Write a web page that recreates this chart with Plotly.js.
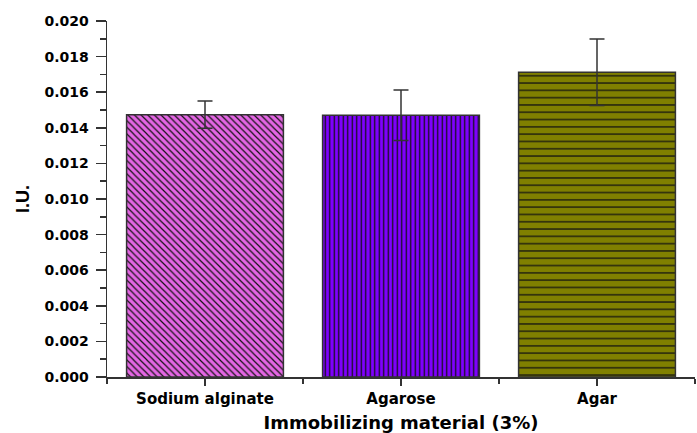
<!DOCTYPE html>
<html>
<head>
<meta charset="utf-8">
<script src="https://cdn.plot.ly/plotly-3.0.1.min.js"></script>
<style>html,body{margin:0;padding:0;background:#fff;}#chart{width:697px;height:433px;}</style>
</head>
<body>
<div id="chart"></div>
<script>
const categories = ["Sodium alginate", "Agarose", "Agar"];
const values = [0.01474, 0.01470, 0.01712];
const errors = [0.00077, 0.00142, 0.00187];
const fillColors = ["#e466e4", "#7f00ff", "#808000"];
const patterns = ["\\", "|", "-"];
const patternSizes = [4.7, 4.5, 7.3];
const patternSolidity = [0.25, 0.28, 0.17];
const yTickVals = [0, 0.002, 0.004, 0.006, 0.008, 0.010, 0.012, 0.014, 0.016, 0.018, 0.020];
const yTickText = ["0.000","0.002","0.004","0.006","0.008","0.010","0.012","0.014","0.016","0.018","0.020"];

const xIdx = categories.map((c, i) => i);

const traces = categories.map((c, i) => ({
  type: "bar",
  x: [xIdx[i]],
  y: [values[i]],
  width: 0.8,
  name: c,
  marker: {
    color: fillColors[i],
    line: {color: "#333333", width: 1.5},
    pattern: {
      shape: patterns[i],
      fgcolor: "#111111",
      bgcolor: fillColors[i],
      size: patternSizes[i],
      solidity: patternSolidity[i],
      fillmode: "replace"
    }
  },
  error_y: {
    type: "data",
    array: [errors[i]],
    visible: true,
    color: "#333333",
    thickness: 1.5,
    width: 7.5
  },
  showlegend: false
}));

const layout = {
  width: 697,
  height: 433,
  margin: {l: 107, r: 2, t: 21, b: 56},
  paper_bgcolor: "#ffffff",
  plot_bgcolor: "#ffffff",
  barmode: "overlay",
  font: {family: "DejaVu Sans", color: "#000000"},
  xaxis: {
    range: [-0.5, 2.5],
    tickmode: "array",
    tickvals: xIdx,
    ticktext: categories,
    ticks: "outside",
    ticklen: 7,
    tickwidth: 1.5,
    tickcolor: "#333333",
    showline: true,
    linecolor: "#333333",
    linewidth: 1.5,
    showgrid: false,
    zeroline: false,
    tickfont: {family: "DejaVu Sans", size: 15, color: "#000", weight: "bold"},
    minor: {tickmode: "array", tickvals: [-0.5, 0.5, 1.5, 2.5], ticks: "outside", ticklen: 5, tickwidth: 1.5, tickcolor: "#333333", showgrid: false},
    title: {text: "Immobilizing material (3%)", font: {family: "DejaVu Sans", size: 18, color: "#000", weight: "bold"}, standoff: 10}
  },
  yaxis: {
    range: [0, 0.020],
    tickmode: "array",
    tickvals: yTickVals,
    ticktext: yTickText,
    ticks: "outside",
    ticklen: 10,
    tickwidth: 1.5,
    tickcolor: "#333333",
    showline: true,
    linecolor: "#333333",
    linewidth: 1.5,
    showgrid: false,
    zeroline: false,
    ticklabelstandoff: 4,
    tickfont: {family: "DejaVu Sans", size: 14, color: "#000", weight: "bold"},
    minor: {dtick: 0.001, tick0: 0, ticks: "outside", ticklen: 6, tickwidth: 1.5, tickcolor: "#333333", showgrid: false},
    title: {text: "I.U.", font: {family: "Liberation Sans", size: 18, color: "#000", weight: "bold"}, standoff: 10}
  }
};

Plotly.newPlot("chart", traces, layout, {displayModeBar: false, staticPlot: true});
</script>
</body>
</html>
